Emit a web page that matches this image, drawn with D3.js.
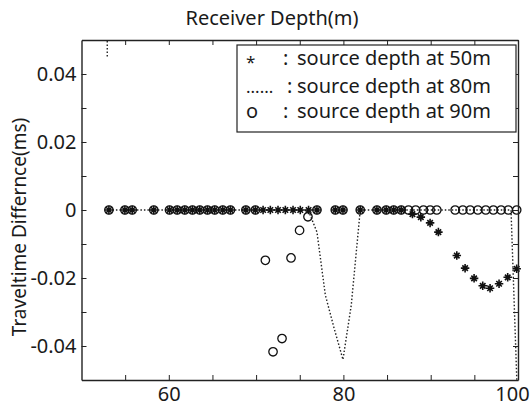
<!DOCTYPE html>
<html>
<head>
	<title>Traveltime difference</title>
	<meta charset='utf-8'>
	<style>
		body {
			margin: 0;
			background: #fff;
		}

		.chart text {
			font-family: 'Noto Sans', sans-serif;
			fill: #1a1a1a;
		}

		.axis path.domain {
			stroke: #222;
			stroke-width: 1.4px;
		}

		.axis .tick line {
			stroke: #222;
			stroke-width: 1px;
		}

		.axis .tick text {
			font-size: 20px;
		}

		.dotline {
			fill: none;
			stroke: #222;
			stroke-width: 1.4px;
			stroke-dasharray: 1.5, 2;
		}

		.marker {
			fill: none;
			stroke: #111;
			stroke-width: 1.3px;
		}

		.marker.star {
			stroke-width: 1.6px;
		}
	</style>
</head>
<body>

<script src='https://d3js.org/d3.v7.min.js'></script>
<script>
	'use strict';

	// receiver depth (m) and traveltime difference (ms) for each source
	const depthStar = [53.14, 54.97, 55.81, 58.28, 60.08, 60.96, 61.83, 62.71, 63.55, 64.43,
		65.26, 66.18, 67.06, 68.83, 69.92, 70.80, 71.63, 72.51, 73.35, 74.23,
		75.06, 76.01, 76.97, 79.07, 79.95, 81.93, 83.84, 84.90, 85.76, 86.62,
		87.91, 88.87, 89.93, 90.88, 92.99, 93.94, 94.97, 95.96, 96.80, 97.83,
		98.82, 99.85];
	const diffStar = [0, 0, 0, 0, 0, 0, 0, 0, 0, 0,
		0, 0, 0, 0, 0, 0, 0, 0, 0, 0,
		0, 0, 0, 0, 0, 0, 0, 0, 0, 0,
		-0.0012, -0.0021, -0.0038, -0.0065, -0.0134, -0.0171, -0.0201, -0.0223, -0.0230, -0.0217,
		-0.0198, -0.0173];

	const depthDot = [52.95, 52.95, 53.0, 53.14, 75.06, 76.01, 76.97, 77.93, 78.96, 79.95,
		80.90, 81.93, 99.20, 100.05];
	const diffDot = [0.06, 0.0448, null, 0, 0, -0.0003, -0.0065, -0.025, -0.035, -0.044,
		-0.028, 0, 0, -0.064];

	const depthCircle = [53.14, 54.97, 55.81, 58.28, 60.08, 60.96, 61.83, 62.71, 63.55, 64.43,
		65.26, 66.18, 67.06, 68.83, 69.92, 71.06, 71.94, 72.97, 74.00, 74.98,
		75.94, 76.97, 79.07, 79.95, 81.93, 83.84, 84.90, 85.76, 86.62, 87.46,
		88.28, 89.17, 89.94, 90.70, 92.80, 93.68, 94.52, 95.40, 96.31, 97.18,
		98.06, 98.89, 99.85];
	const diffCircle = [0, 0, 0, 0, 0, 0, 0, 0, 0, 0,
		0, 0, 0, 0, 0, -0.0148, -0.0417, -0.0378, -0.0141, -0.0060,
		-0.0020, 0, 0, 0, 0, 0, 0, 0, 0, 0,
		0, 0, 0, 0, 0, 0, 0, 0, 0, 0,
		0, 0, 0];

	const xTicks = [55, 60, 65, 70, 75, 80, 85, 90, 95, 100];
	const xLabelTicks = [60, 80, 100];
	const yTicks = [-0.04, -0.03, -0.02, -0.01, 0, 0.01, 0.02, 0.03, 0.04];
	const yLabelTicks = [-0.04, -0.02, 0, 0.02, 0.04];
	const yLabelText = ['-0.04', '-0.02', '0', '0.02', '0.04'];

	const legendSymbols = ['*', '......', 'o'];
	const legendLabels = ['source depth at 50m', 'source depth at 80m', 'source depth at 90m'];

	const W = 530, H = 408;
	const plot = {left: 81.5, right: 518, top: 40, bottom: 380};

	const x = d3.scaleLinear().domain([50, 100]).range([plot.left, plot.right]);
	const y = d3.scaleLinear().domain([-0.05, 0.05]).range([plot.bottom, plot.top]);

	const svg = d3.select('body').append('svg')
		.attr('class', 'chart')
		.attr('width', W)
		.attr('height', H);

	svg.append('defs').append('clipPath')
		.attr('id', 'plotclip')
		.append('rect')
		.attr('x', plot.left)
		.attr('y', plot.top)
		.attr('width', plot.right - plot.left)
		.attr('height', plot.bottom - plot.top);

	// dotted line: source at 80m
	const dotData = depthDot.map(function(d, i) {return {depth: d, diff: diffDot[i]};});
	const dotLine = d3.line()
		.defined(function(d) {return d.diff !== null;})
		.x(function(d) {return x(d.depth);})
		.y(function(d) {return y(d.diff);});

	svg.append('path')
		.datum(dotData)
		.attr('class', 'dotline')
		.attr('clip-path', 'url(#plotclip)')
		.attr('d', dotLine);

	// asterisk marker, like matlab '*'
	const asterisk = {
		draw: function(ctx, size) {
			const r = Math.sqrt(size) / 2;
			const q = r * 0.65;
			ctx.moveTo(-r, 0); ctx.lineTo(r, 0);
			ctx.moveTo(0, -r); ctx.lineTo(0, r);
			ctx.moveTo(-q, -q); ctx.lineTo(q, q);
			ctx.moveTo(-q, q); ctx.lineTo(q, -q);
		}
	};

	svg.append('g').selectAll('path')
		.data(depthStar.map(function(d, i) {return {depth: d, diff: diffStar[i]};}))
		.join('path')
		.attr('class', 'marker star')
		.attr('transform', function(d) {return 'translate(' + x(d.depth) + ',' + y(d.diff) + ')';})
		.attr('d', d3.symbol(asterisk, 72));

	svg.append('g').selectAll('path')
		.data(depthCircle.map(function(d, i) {return {depth: d, diff: diffCircle[i]};}))
		.join('path')
		.attr('class', 'marker')
		.attr('transform', function(d) {return 'translate(' + x(d.depth) + ',' + y(d.diff) + ')';})
		.attr('d', d3.symbol(d3.symbolCircle, 56));

	// box axes, ticks pointing inwards
	svg.append('g')
		.attr('class', 'axis')
		.attr('transform', 'translate(0,' + plot.bottom + ')')
		.call(d3.axisBottom(x)
			.tickValues(xTicks)
			.tickSizeInner(-5)
			.tickSizeOuter(0)
			.tickPadding(7)
			.tickFormat(function(d) {return xLabelTicks.indexOf(d) >= 0 ? String(d) : '';}))
		.selectAll('.tick text')
		.attr('dx', function(d) {return d === 100 ? -6 : 0;});

	svg.append('g')
		.attr('class', 'axis')
		.attr('transform', 'translate(0,' + plot.top + ')')
		.call(d3.axisTop(x).tickValues(xTicks).tickSizeInner(-5).tickSizeOuter(0).tickFormat(''));

	svg.append('g')
		.attr('class', 'axis')
		.attr('transform', 'translate(' + plot.left + ',0)')
		.call(d3.axisLeft(y)
			.tickValues(yTicks)
			.tickSizeInner(-5)
			.tickSizeOuter(0)
			.tickPadding(5)
			.tickFormat(function(d) {
				const k = yLabelTicks.findIndex(function(v) {return Math.abs(v - d) < 1e-9;});
				return k >= 0 ? yLabelText[k] : '';
			}));

	svg.append('g')
		.attr('class', 'axis')
		.attr('transform', 'translate(' + plot.right + ',0)')
		.call(d3.axisRight(y).tickValues(yTicks).tickSizeInner(-5).tickSizeOuter(0).tickFormat(''));

	svg.selectAll('.axis text').attr('font-family', null);

	// titles
	svg.append('text')
		.attr('x', 272)
		.attr('y', 25)
		.attr('text-anchor', 'middle')
		.style('font-size', '20px')
		.text('Receiver Depth(m)');

	svg.append('text')
		.attr('transform', 'translate(26,227) rotate(-90)')
		.attr('text-anchor', 'middle')
		.style('font-size', '19px')
		.text('Traveltime Differnce(ms)');

	// legend made of text, as in the original
	const legend = svg.append('g').attr('class', 'legend');
	legend.append('rect')
		.attr('x', 237)
		.attr('y', 45)
		.attr('width', 279)
		.attr('height', 87)
		.attr('fill', '#fff')
		.attr('stroke', '#222')
		.attr('stroke-width', 1.2);

	const rowY = [65, 93, 118];
	const colonX = [283, 287, 283];
	legendLabels.forEach(function(label, i) {
		legend.append('text')
			.attr('x', 246)
			.attr('y', rowY[i] + (i === 0 ? 3 : 0))
			.style('font-size', i === 1 ? '17px' : (i === 0 ? '17px' : '20px'))
			.text(legendSymbols[i]);
		legend.append('text')
			.attr('x', colonX[i])
			.attr('y', rowY[i])
			.style('font-size', '20px')
			.text(':');
		legend.append('text')
			.attr('x', 297)
			.attr('y', rowY[i])
			.style('font-size', '20px')
			.text(label);
	});
</script>
</body>
</html>
